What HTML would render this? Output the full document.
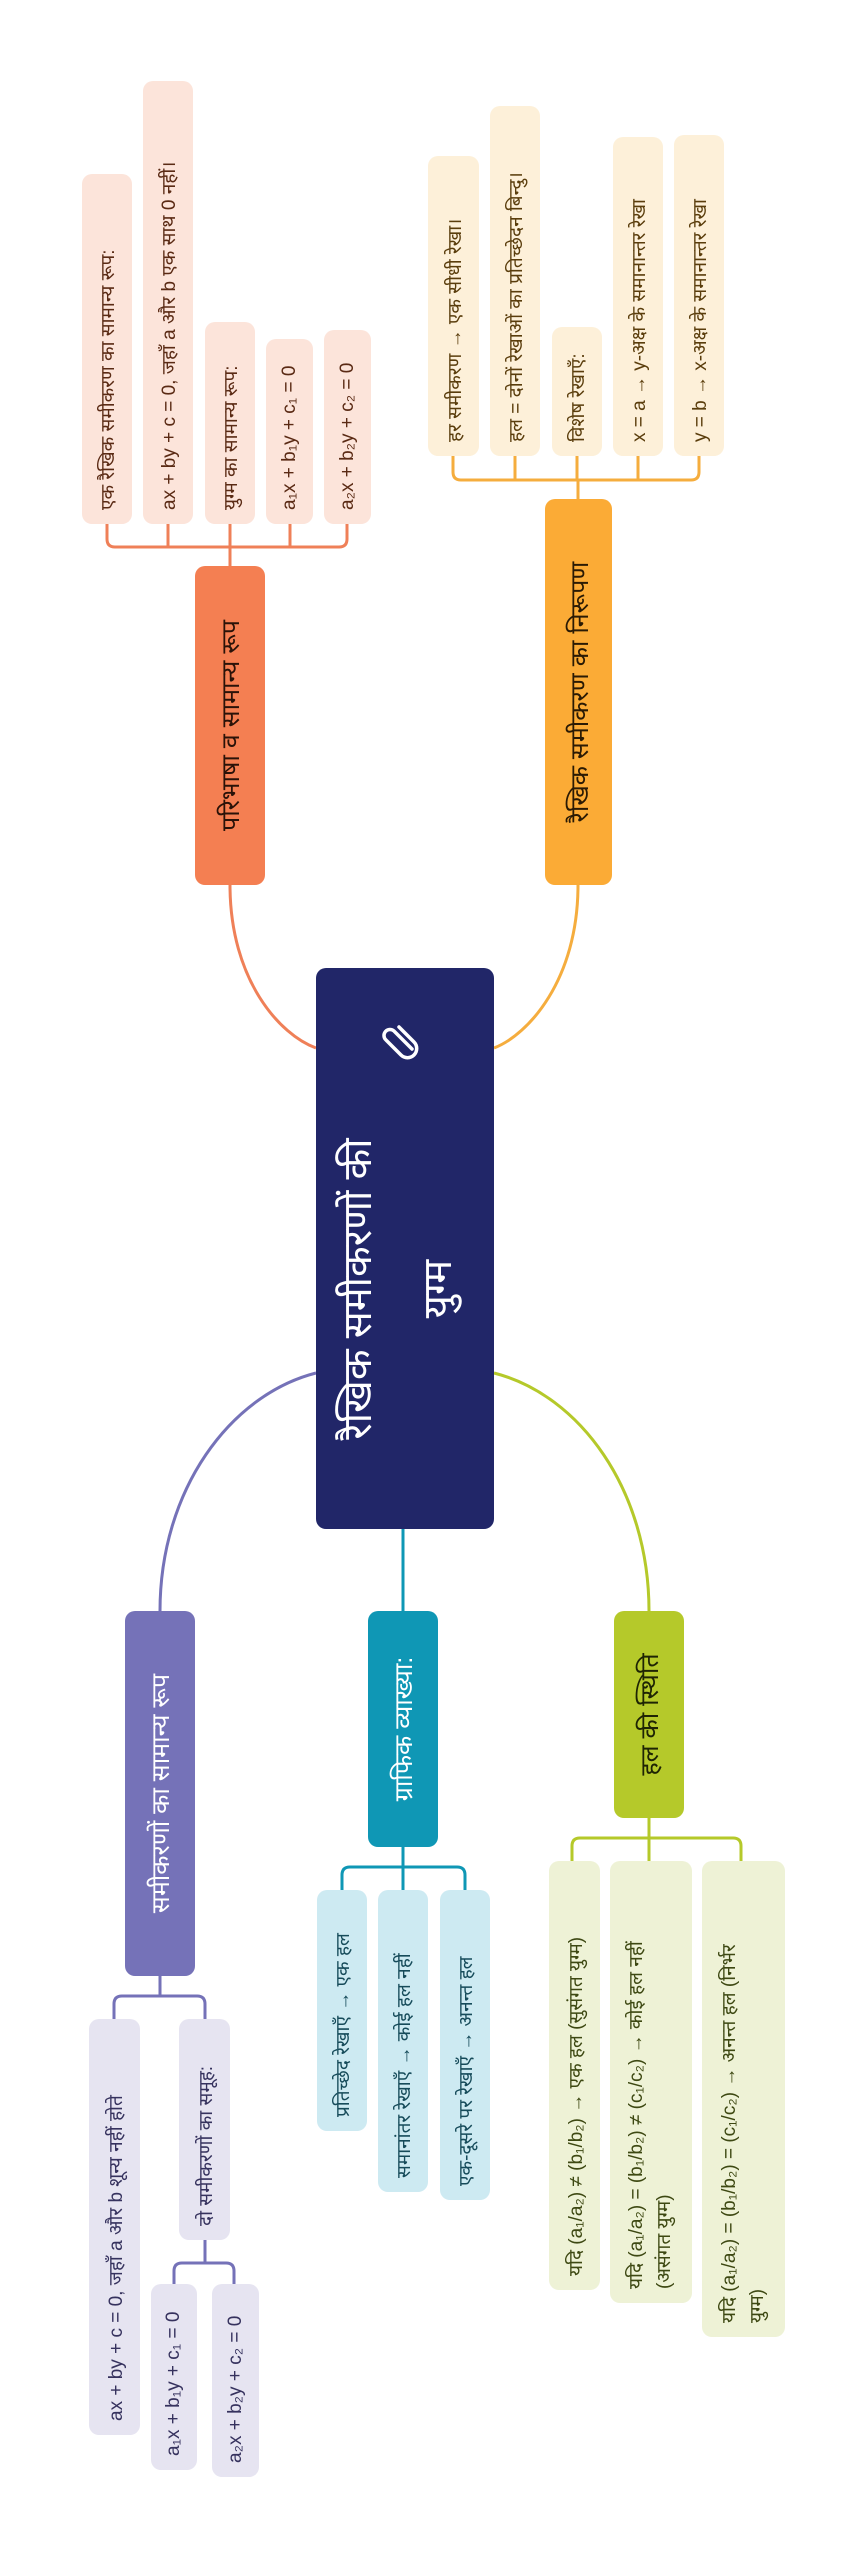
<!DOCTYPE html>
<html><head><meta charset="utf-8">
<style>
html,body{margin:0;padding:0;background:#fff;}
body{width:863px;height:2560px;overflow:hidden;position:relative;}
#c{position:absolute;left:0;top:0;width:2560px;height:863px;transform-origin:0 0;transform:translate(0,2560px) rotate(-90deg);font-family:"Liberation Sans","Noto Sans CJK SC",sans-serif;}
.n{position:absolute;border-radius:10px;display:flex;align-items:center;justify-content:center;font-size:25px;white-space:nowrap;box-sizing:border-box;}
.b{position:absolute;border-radius:10px;font-size:19px;white-space:nowrap;box-sizing:border-box;padding-left:14px;display:flex;align-items:center;}
.b2{line-height:28px;}
.o{background:#fce4da;color:#5a2a14;}
.y{background:#fdf0d9;color:#5a3d0c;}
.p{background:#e6e4f1;color:#36325e;}
.t{background:#cdeaf2;color:#164b5a;}
.g{background:#eef2d6;color:#3d4812;}
svg{position:absolute;left:0;top:0;}
</style></head><body>
<div id="c">
<svg width="2560" height="863" fill="none" stroke-width="3">
 <path d="M1675,230 C1580,230 1525,280 1512,316" stroke="#ef8058"/>
 <path d="M1675,578 C1580,578 1525,528 1512,494" stroke="#f5ad3e"/>
 <path d="M1187,316 C1165,230 1070,160 949,160" stroke="#7572b8"/>
 <path d="M1187,494 C1165,580 1070,649 949,649" stroke="#b5c92a"/>
 <path d="M1031,403 H949" stroke="#0f97b5"/>
 <g stroke="#ef8058">
 <path d="M1994,230 H2013"/>
 <path d="M2036,107 H2021 Q2013,107 2013,115 V339 Q2013,347 2021,347 H2036"/>
 <path d="M2013,168 H2036 M2013,230 H2036 M2013,290 H2036"/>
 </g>
 <g stroke="#f5ad3e">
 <path d="M2061,578 H2080"/>
 <path d="M2104,453 H2088 Q2080,453 2080,461 V691 Q2080,699 2088,699 H2104"/>
 <path d="M2080,515 H2104 M2080,577 H2104 M2080,638 H2104"/>
 </g>
 <g stroke="#7572b8">
 <path d="M584,160 H564"/>
 <path d="M541,114 H556 Q564,114 564,122 V197 Q564,205 556,205 H541"/>
 <path d="M320,205 H297"/>
 <path d="M276,174 H289 Q297,174 297,182 V226 Q297,234 289,234 H276"/>
 </g>
 <g stroke="#0f97b5">
 <path d="M713,403 H693"/>
 <path d="M670,342 H685 Q693,342 693,350 V457 Q693,465 685,465 H670"/>
 <path d="M693,403 H670"/>
 </g>
 <g stroke="#b5c92a">
 <path d="M742,649 H722"/>
 <path d="M699,572 H714 Q722,572 722,580 V733 Q722,741 714,741 H699"/>
 <path d="M722,649 H699"/>
 </g>
</svg>

<div class="n" style="left:1031px;top:316px;width:561px;height:178px;background:#212668;color:#fff;display:block;">
 <div style="position:absolute;left:0;top:12px;width:480px;height:60px;line-height:60px;text-align:center;font-size:40px;">रैखिक समीकरणों की</div>
 <div style="position:absolute;left:0;top:92px;width:480px;height:60px;line-height:60px;text-align:center;font-size:40px;">युग्म</div>
 <svg style="left:466px;top:64px;" width="46" height="46" viewBox="0 0 46 46" fill="none" stroke="#fff" stroke-width="3.5" stroke-linecap="round">
  <path d="M14,32 L32,14 A6,6 0 0 0 23,6 L8,21 A9,9 0 0 0 21,34 L36,19"/>
 </svg>
</div>

<div class="n" style="left:1675px;top:195px;width:319px;height:70px;background:#f47f52;color:#2a1208;">परिभाषा व सामान्य रूप</div>
<div class="n" style="left:1675px;top:545px;width:386px;height:67px;background:#fbab36;color:#2a1a04;">रैखिक समीकरण का निरूपण</div>
<div class="n" style="left:584px;top:125px;width:365px;height:70px;background:#7572b8;color:#fff;">समीकरणों का सामान्य रूप</div>
<div class="n" style="left:713px;top:368px;width:236px;height:70px;background:#0f97b5;color:#fff;">ग्राफिक व्याख्या:</div>
<div class="n" style="left:742px;top:614px;width:207px;height:70px;background:#b5c92a;color:#1e2404;">हल की स्थिति</div>

<div class="b o" style="left:2036px;top:82px;width:350px;height:50px;">एक रैखिक समीकरण का सामान्य रूप:</div>
<div class="b o" style="left:2036px;top:143px;width:443px;height:50px;">ax + by + c = 0, जहाँ a और b एक साथ 0 नहीं।</div>
<div class="b o" style="left:2036px;top:205px;width:202px;height:50px;">युग्म का सामान्य रूप:</div>
<div class="b o" style="left:2036px;top:266px;width:185px;height:47px;">a₁x + b₁y + c₁ = 0</div>
<div class="b o" style="left:2036px;top:324px;width:194px;height:47px;">a₂x + b₂y + c₂ = 0</div>

<div class="b y" style="left:2104px;top:428px;width:300px;height:51px;">हर समीकरण → एक सीधी रेखा।</div>
<div class="b y" style="left:2104px;top:490px;width:350px;height:50px;">हल = दोनों रेखाओं का प्रतिच्छेदन बिन्दु।</div>
<div class="b y" style="left:2104px;top:552px;width:129px;height:50px;">विशेष रेखाएँ:</div>
<div class="b y" style="left:2104px;top:613px;width:319px;height:50px;">x = a → y-अक्ष के समानान्तर रेखा</div>
<div class="b y" style="left:2104px;top:674px;width:321px;height:50px;">y = b → x-अक्ष के समानान्तर रेखा</div>

<div class="b p" style="left:125px;top:89px;width:416px;height:51px;">ax + by + c = 0, जहाँ a और b शून्य नहीं होते</div>
<div class="b p" style="left:320px;top:179px;width:221px;height:51px;">दो समीकरणों का समूह:</div>
<div class="b p" style="left:90px;top:151px;width:186px;height:46px;">a₁x + b₁y + c₁ = 0</div>
<div class="b p" style="left:83px;top:212px;width:193px;height:47px;">a₂x + b₂y + c₂ = 0</div>

<div class="b t" style="left:429px;top:317px;width:241px;height:50px;">प्रतिच्छेद रेखाएँ → एक हल</div>
<div class="b t" style="left:368px;top:378px;width:302px;height:50px;">समानांतर रेखाएँ → कोई हल नहीं</div>
<div class="b t" style="left:360px;top:440px;width:310px;height:50px;">एक-दूसरे पर रेखाएँ → अनन्त हल</div>

<div class="b g" style="left:270px;top:549px;width:429px;height:51px;">यदि (a₁/a₂) ≠ (b₁/b₂) → एक हल (सुसंगत युग्म)</div>
<div class="b g b2" style="left:257px;top:610px;width:442px;height:82px;">यदि (a₁/a₂) = (b₁/b₂) ≠ (c₁/c₂) → कोई हल नहीं<br>(असंगत युग्म)</div>
<div class="b g b2" style="left:223px;top:702px;width:476px;height:83px;">यदि (a₁/a₂) = (b₁/b₂) = (c₁/c₂) → अनन्त हल (निर्भर<br>युग्म)</div>
</div>
</body></html>
